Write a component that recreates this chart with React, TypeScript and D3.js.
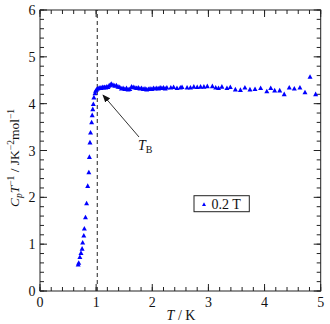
import React from "react";
import * as d3 from "d3";

const tempK = [
  0.68, 0.69, 0.71, 0.73, 0.75, 0.76, 0.78, 0.79, 0.81, 0.83, 0.85, 0.87, 0.88, 0.89, 0.9, 0.92, 0.93, 0.94, 0.95, 0.96, 0.98, 0.99,
  1.01, 1.03, 1.05, 1.07, 1.09, 1.11, 1.13, 1.15, 1.17, 1.19, 1.21, 1.23, 1.25, 1.27, 1.3, 1.33, 1.36, 1.39, 1.42, 1.45, 1.48, 1.51,
  1.54, 1.57, 1.6, 1.63, 1.66, 1.69, 1.72, 1.75, 1.78, 1.81, 1.84, 1.87, 1.9, 1.93, 1.96, 1.99, 2.02, 2.05, 2.08, 2.11, 2.14, 2.17,
  2.2, 2.23, 2.26, 2.33, 2.38, 2.44, 2.5, 2.53, 2.62, 2.68, 2.74, 2.8, 2.86, 2.92, 2.98, 3.07, 3.13, 3.18, 3.24, 3.33, 3.39, 3.48,
  3.57, 3.65, 3.74, 3.83, 3.93, 4.04, 4.11, 4.18, 4.27, 4.35, 4.44, 4.53, 4.63, 4.72, 4.81, 4.91,
];
const cpT = [
  0.56, 0.6, 0.72, 0.81, 0.9, 1.03, 1.18, 1.33, 1.57, 1.87, 2.24, 2.53, 2.86, 3.17, 3.38, 3.6, 3.75, 3.88, 3.99, 4.13, 4.22, 4.27,
  4.3, 4.32, 4.33, 4.34, 4.33, 4.35, 4.34, 4.35, 4.34, 4.36, 4.35, 4.38, 4.4, 4.42, 4.4, 4.38, 4.39, 4.36, 4.35, 4.32, 4.33, 4.31,
  4.33, 4.3, 4.31, 4.36, 4.35, 4.34, 4.33, 4.34, 4.32, 4.33, 4.31, 4.32, 4.3, 4.31, 4.32, 4.31, 4.33, 4.32, 4.33, 4.32, 4.34, 4.33,
  4.34, 4.32, 4.34, 4.34, 4.35, 4.33, 4.34, 4.35, 4.34, 4.34, 4.36, 4.35, 4.36, 4.36, 4.37, 4.37, 4.34, 4.33, 4.36, 4.33, 4.35, 4.3,
  4.29, 4.34, 4.3, 4.31, 4.33, 4.26, 4.33, 4.28, 4.28, 4.2, 4.34, 4.32, 4.34, 4.24, 4.57, 4.2,
];
const xTicks = [0, 1, 2, 3, 4, 5];
const yTicks = [0, 1, 2, 3, 4, 5, 6];
const transitionT = 1.02;
const legendLabel = "0.2 T";

const FONT = "'Liberation Serif', 'DejaVu Serif', serif";

export default function App() {
  const x = d3.scaleLinear().domain([0, 5]).range([40, 320.7]);
  const y = d3.scaleLinear().domain([0, 6]).range([291, 10]);
  const xMinor = d3.range(0, 5.0001, 0.2);
  const yMinor = d3.range(0, 6.0001, 0.2);
  const tri = (cx: number, cy: number, w = 5, h = 4.6) =>
    `M${cx},${cy - h * 0.6}L${cx + w / 2},${cy + h * 0.4}L${cx - w / 2},${cy + h * 0.4}Z`;
  const [x0, x1] = x.range();
  const [y0, y1] = y.range();
  const stroke = "#222";
  return (
    <svg width={330} height={324} style={{ position: "absolute", left: 0, top: 0 }} fontFamily={FONT}>
      <rect width={330} height={324} fill="#fff" />
      {/* minor ticks */}
      {xMinor.map((v, i) => (
        <g key={"xm" + i} stroke={stroke} strokeWidth={1}>
          <line x1={x(v)} x2={x(v)} y1={y0} y2={y0 - 4} />
          <line x1={x(v)} x2={x(v)} y1={y1} y2={y1 + 4} />
        </g>
      ))}
      {yMinor.map((v, i) => (
        <g key={"ym" + i} stroke={stroke} strokeWidth={1}>
          <line x1={x0} x2={x0 + 4} y1={y(v)} y2={y(v)} />
          <line x1={x1} x2={x1 - 4} y1={y(v)} y2={y(v)} />
        </g>
      ))}
      {xTicks.map((v) => (
        <g key={"xt" + v}>
          <line x1={x(v)} x2={x(v)} y1={y0} y2={y0 - 7} stroke={stroke} />
          <line x1={x(v)} x2={x(v)} y1={y1} y2={y1 + 7} stroke={stroke} />
          <text x={x(v)} y={306.5} fontSize={14} textAnchor="middle" fill="#111">
            {v}
          </text>
        </g>
      ))}
      {yTicks.map((v) => (
        <g key={"yt" + v}>
          <line x1={x0} x2={x0 + 7} y1={y(v)} y2={y(v)} stroke={stroke} />
          <line x1={x1} x2={x1 - 7} y1={y(v)} y2={y(v)} stroke={stroke} />
          <text x={35.5} y={y(v) + 5} fontSize={14} textAnchor="end" fill="#111">
            {v}
          </text>
        </g>
      ))}
      <rect x={x0} y={y1} width={x1 - x0} height={y0 - y1} fill="none" stroke={stroke} strokeWidth={1} />
      <line
        x1={x(transitionT)}
        x2={x(transitionT)}
        y1={y0}
        y2={y1}
        stroke="#222"
        strokeDasharray="4,3"
        strokeWidth={1}
      />
      {tempK.map((t, i) => (
        <path key={"p" + i} d={tri(x(t), y(cpT[i]))} fill="#0000ff" />
      ))}
      {/* annotation */}
      <defs>
        <marker id="ah" viewBox="0 0 10 10" refX="9" refY="5" markerWidth="8" markerHeight="8" orient="auto-start-reverse" markerUnits="userSpaceOnUse">
          <path d="M0,1L10,5L0,9Z" fill="#111" />
        </marker>
      </defs>
      <line x1={139} y1={137} x2={103} y2={95} stroke="#333" strokeWidth={1} markerEnd="url(#ah)" />
      <text x={138} y={150} fontSize={14} fill="#111">
        <tspan fontStyle="italic">T</tspan>
        <tspan fontSize={10} dy={2.5}>B</tspan>
      </text>
      {/* legend */}
      <rect x={194} y={195.7} width={55.3} height={16} fill="#fff" stroke="#222" strokeWidth={1} />
      <path d={tri(204, 204.5, 4, 3.8)} fill="#0000ff" />
      <text x={211.5} y={208.5} fontSize={14} fill="#111">
        {legendLabel}
      </text>
      {/* axis titles */}
      <text x={181} y={320} fontSize={14} textAnchor="middle" fill="#111">
        <tspan fontStyle="italic">T</tspan>
        <tspan> / K</tspan>
      </text>
      <text transform="translate(18.5,158) rotate(-90)" fontSize={13.5} textAnchor="middle" fill="#111">
        <tspan fontStyle="italic">C</tspan>
        <tspan fontStyle="italic" fontSize={9.5} dy={3}>p</tspan>
        <tspan fontStyle="italic" dy={-3}>T</tspan>
        <tspan fontSize={9.5} dy={-5}>−1</tspan>
        <tspan dy={5}> / JK</tspan>
        <tspan fontSize={9.5} dy={-5}>−2</tspan>
        <tspan dy={5}>mol</tspan>
        <tspan fontSize={9.5} dy={-5}>−1</tspan>
      </text>
    </svg>
  );
}
